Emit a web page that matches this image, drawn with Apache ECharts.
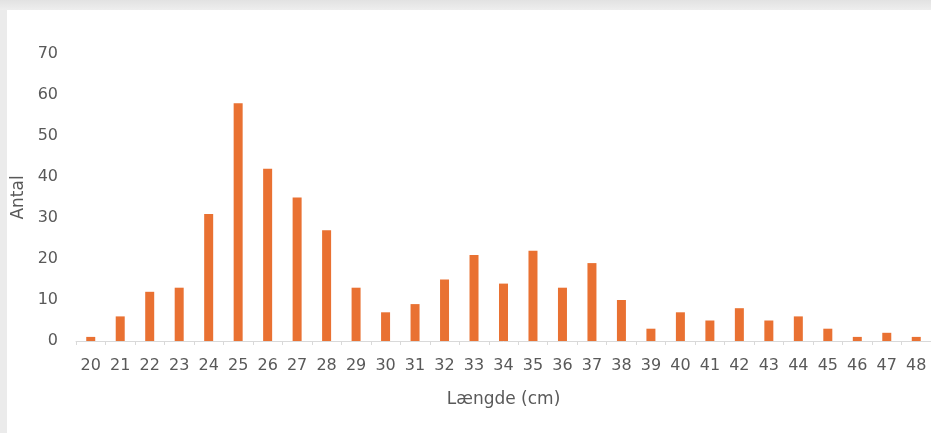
<!DOCTYPE html>
<html>
<head>
<meta charset="utf-8">
<script src="https://cdn.jsdelivr.net/npm/echarts@6/dist/echarts.min.js"></script>
<style>
html,body{margin:0;padding:0;background:#fff;}
#c{width:931px;height:433px;}
</style>
</head>
<body>
<div id="c"></div>
<script>
const categories = ['20','21','22','23','24','25','26','27','28','29','30','31','32','33','34','35','36','37','38','39','40','41','42','43','44','45','46','47','48'];
const antal = [1,6,12,13,31,58,42,35,27,13,7,9,15,21,14,22,13,19,10,3,7,5,8,5,6,3,1,2,1];
const yTicks = [0,10,20,30,40,50,60,70];
const xName = 'Længde (cm)';
const yName = 'Antal';

const chart = echarts.init(document.getElementById('c'), null, {renderer:'canvas'});
const font = 'DejaVu Sans';
chart.setOption({
  animation: false,
  backgroundColor: '#ffffff',
  graphic: [
    {type:'rect', left:0, top:0, shape:{width:931, height:10}, z:-1,
     style:{fill:new echarts.graphic.LinearGradient(0,0,0,1,[{offset:0,color:'#e2e2e2'},{offset:1,color:'#eeeeee'}])}},
    {type:'rect', left:0, top:10, shape:{width:7, height:423}, z:-1, style:{fill:'#ebebeb'}}
  ],
  grid: {left:76, right:0, top:54, bottom:92, containLabel:false},
  xAxis: {
    type:'category',
    data: categories,
    name: xName,
    nameLocation:'middle',
    nameGap: 50,
    nameTextStyle:{fontFamily:font, fontSize:17, color:'#595959'},
    axisLine:{show:true, lineStyle:{color:'#d9d9d9', width:1}},
    axisTick:{show:true, alignWithLabel:false, length:4, lineStyle:{color:'#d9d9d9'}},
    axisLabel:{fontFamily:font, fontSize:16, color:'#595959', margin:17, interval:0},
    splitLine:{show:false}
  },
  yAxis: {
    type:'value',
    min: yTicks[0],
    max: yTicks[yTicks.length-1],
    interval: 10,
    name: yName,
    nameLocation:'middle',
    nameGap: 48,
    nameRotate: 90,
    nameTextStyle:{fontFamily:font, fontSize:17, color:'#595959'},
    axisLine:{show:false},
    axisTick:{show:false},
    splitLine:{show:false},
    axisLabel:{fontFamily:font, fontSize:16, color:'#595959', margin:18}
  },
  series: [{
    type:'bar',
    data: antal,
    barWidth: 9,
    itemStyle:{color:'#E97132'}
  }]
});
</script>
</body>
</html>
